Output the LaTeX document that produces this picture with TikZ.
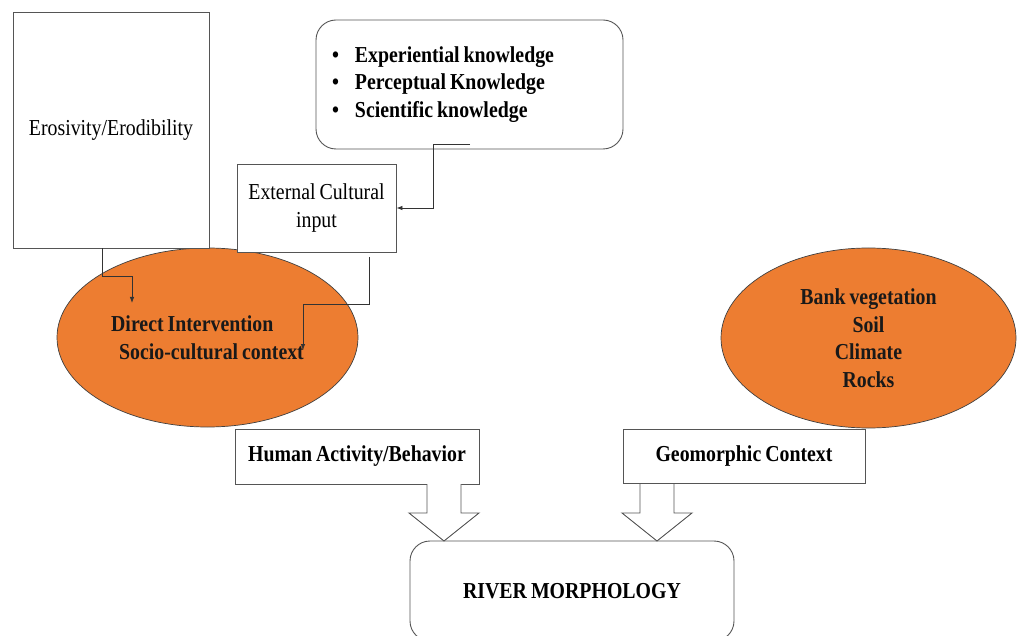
\documentclass[tikz,border=0pt]{standalone}
\usepackage{fontspec}
\setmainfont[FakeStretch=0.87,WordSpace=0.8]{Liberation Serif}
\usetikzlibrary{shapes.geometric,arrows.meta}
\definecolor{boxline}{HTML}{555555}
\definecolor{blobfill}{HTML}{ED7D31}
\begin{document}
\begin{tikzpicture}[x=1pt,y=-1pt,
  every node/.style={font=\fontsize{22.8}{27.5}\selectfont, inner sep=0pt},
  plain/.style={rectangle, draw=boxline, line width=0.9pt, fill=white},
  roundbox/.style={plain, rounded corners=20pt},
  heavy/.style={font=\fontsize{22.8}{27.5}\selectfont\bfseries},
  blob/.style={ellipse, draw=black!75, line width=0.7pt, fill=blobfill,
    text=black!90, font=\fontsize{22.8}{27.5}\selectfont\bfseries},
  conn/.style={draw=black!80, line width=0.8pt, -{Latex[length=6pt,width=4.5pt]}},
  blockarrow/.pic={\draw[boxline, line width=0.9pt, fill=white]
    (-17,0) -- (-17,29) -- (-35,29) -- (0,57) -- (35,29) -- (17,29) -- (17,0);}
]
\useasboundingbox (0,0) rectangle (1017,636);

% orange context ellipses
\node[blob, minimum width=301pt, minimum height=179pt, align=left] (dir) at (207.5,337.5)
  {Direct Intervention\\\hspace*{8pt}Socio-cultural context};
\node[blob, minimum width=295pt, minimum height=180pt, align=center] (geo) at (868.5,338)
  {Bank vegetation\\Soil\\Climate\\Rocks};

% input boxes
\node[plain, minimum width=196pt, minimum height=236pt] (ero) at (111,130) {Erosivity/Erodibility};
\node[roundbox, heavy, minimum width=307pt, minimum height=129pt, text width=275pt,
  inner xsep=16pt, align=flush left] (know) at (469.5,84.5)
  {\makebox[23pt][l]{\textbullet}Experiential knowledge\\
   \makebox[23pt][l]{\textbullet}Perceptual Knowledge\\
   \makebox[23pt][l]{\textbullet}Scientific knowledge};
\node[plain, minimum width=159pt, minimum height=88pt, align=center] (ext) at (316.5,208)
  {External Cultural\\input};

% factor boxes and outcome
\node[plain, heavy, minimum width=244pt, minimum height=55pt] (human) at (357,456.5) {Human Activity/Behavior};
\node[plain, heavy, minimum width=242pt, minimum height=54pt] (gcx) at (744,456) {Geomorphic Context};
\node[roundbox, heavy, minimum width=324pt, minimum height=100pt] (river) at (572,591) {RIVER MORPHOLOGY};

% block arrows into the outcome box
\coordinate (ha) at (444,484);
\coordinate (ga) at (657,484);
\pic at (ha) {blockarrow};
\pic at (ga) {blockarrow};

% thin elbow connectors
\coordinate (dtip) at (132,303);
\draw[conn] ([xshift=90pt]ero.south west) -- ++(0,28) -| (dtip);

\coordinate (xs) at (369,257);
\coordinate (ctip) at (303,350);
\draw[conn] (xs) -- ++(0,47) -| (ctip);

\coordinate (ks) at (470,144);
\draw[conn] (ks) -- ++(-37,0) |- (ext.east);
\end{tikzpicture}
\end{document}
